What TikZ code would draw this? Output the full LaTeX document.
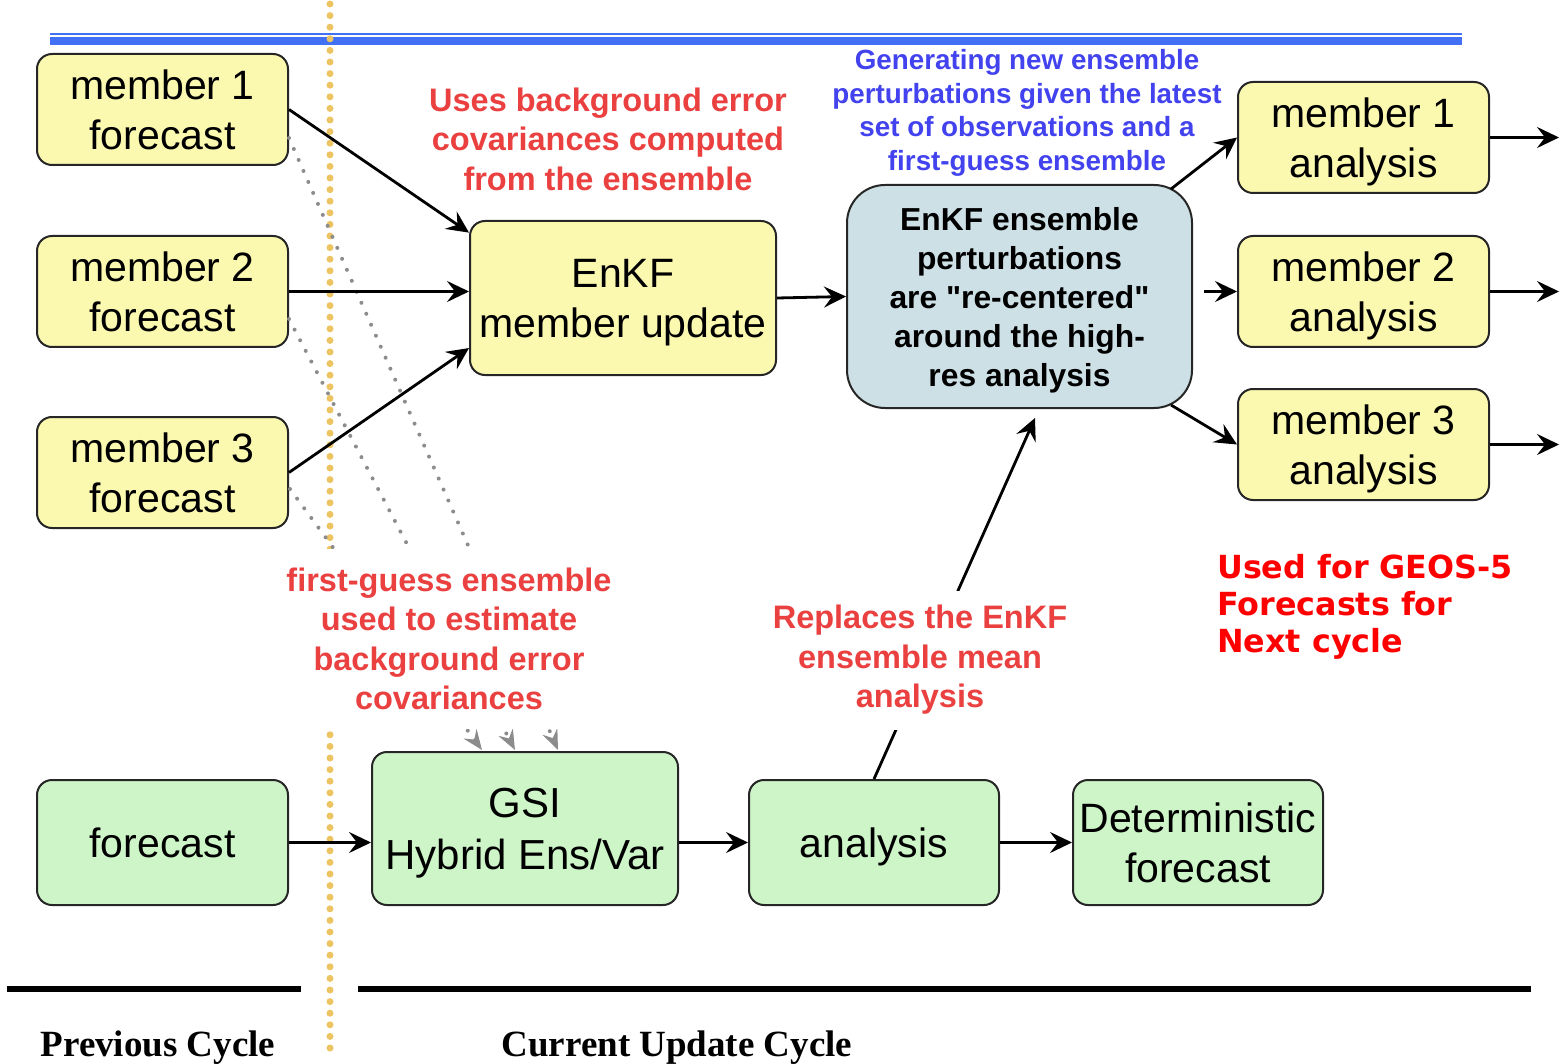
\documentclass[tikz,border=0pt]{standalone}
\usepackage{fontspec}
\setmainfont{Liberation Sans}[Ligatures=TeXOff]
\newfontfamily\geosfont{DejaVu Sans}
\newfontfamily\cyclefont{Liberation Serif}
\usetikzlibrary{arrows.meta,calc}

\definecolor{memberyellow}{RGB}{251,248,176}
\definecolor{stepgreen}{RGB}{205,245,200}
\definecolor{recenterblue}{RGB}{205,224,229}
\definecolor{noteblue}{RGB}{66,66,238}
\definecolor{notered}{RGB}{234,64,64}
\definecolor{cycleorange}{RGB}{236,196,98}
\definecolor{headerblue}{RGB}{66,112,245}
\definecolor{guessgray}{RGB}{140,140,140}

\tikzset{
  flowbox/.style={draw=black!85, line width=2pt, rounded corners=15pt, align=center,
    inner sep=0pt, text depth=0pt, font=\fontsize{41}{50}\selectfont},
  memberbox/.style={flowbox, fill=memberyellow, minimum width=251pt, minimum height=111pt},
  cyclebox/.style={flowbox, fill=stepgreen, minimum width=251pt, minimum height=125pt},
  rednote/.style={align=center, text=notered, font=\bfseries\fontsize{32.5}{39.5}\selectfont},
  bluenote/.style={align=center, text=noteblue, font=\bfseries\fontsize{27.8}{33.5}\selectfont},
  flow/.style={line width=2.8pt, -{Stealth[length=22pt,width=21pt,inset=8pt]}},
  guess/.style={guessgray, line width=4pt, line cap=round, dash pattern=on 0pt off 12pt,
    -{Stealth[length=20pt,width=16pt,inset=7pt]}},
  cyclelabel/.style={font=\cyclefont\bfseries\fontsize{37}{40}\selectfont}
}

\begin{document}
\begin{tikzpicture}[x=1pt, y=-1pt]
\useasboundingbox (0,0) rectangle (1560,1064);

% header rule
\draw[headerblue, line width=2pt] (50,34.3) -- (1462,34.3);
\draw[headerblue, line width=8.5pt] (50,41) -- (1462,41);

% cycle boundary
\draw[cycleorange, line width=7pt, line cap=round, dash pattern=on 0pt off 11.6pt] (330,4) -- (330,1050);

% ensemble members, previous cycle
\node[memberbox] (m1f) at (162.5,109.5) {member 1\\forecast};
\node[memberbox] (m2f) at (162.5,291.5) {member 2\\forecast};
\node[memberbox] (m3f) at (162.5,472.5) {member 3\\forecast};

% EnKF part
\node[flowbox, fill=memberyellow, minimum width=306pt, minimum height=154pt] (enkf) at (623,298) {EnKF\\member update};
\node[flowbox, fill=recenterblue, rounded corners=38pt, minimum width=345pt, minimum height=223pt,
  font=\bfseries\fontsize{31.8}{39}\selectfont] (ens) at (1019.5,296.5)
  {EnKF ensemble\\perturbations\\are "re-centered"\\around the high-\\res analysis};
\node[memberbox] (m1a) at (1363.5,137.5) {member 1\\analysis};
\node[memberbox] (m2a) at (1363.5,291.5) {member 2\\analysis};
\node[memberbox] (m3a) at (1363.5,444.5) {member 3\\analysis};

% GSI part
\node[cyclebox] (fc) at (162.5,842.5) {forecast};
\node[cyclebox, minimum width=306pt, minimum height=153pt, font=\fontsize{42}{52}\selectfont] (gsi) at (525,828.5) {GSI\\Hybrid Ens/Var};
\node[cyclebox, minimum width=250pt] (ana) at (874,842.5) {analysis};
\node[cyclebox, minimum width=250pt] (det) at (1198,842.5) {Deterministic\\forecast};

% first guess goes into the hybrid
\coordinate (g1) at (558,750);
\coordinate (g2) at (515,750);
\coordinate (g3) at (482,750);
\draw[guess] ($(m1f.south east)+(0,-28)$) -- (g1);
\draw[guess] ($(m2f.south east)+(0,-29)$) -- (g2);
\draw[guess] ($(m3f.south east)+(1,-40)$) -- (g3);

\coordinate (enstip) at (1035,418);
\draw[flow] (ana.north) -- (enstip);

% notes
\node[rednote, fill=white, inner xsep=4pt, inner ysep=0pt, minimum height=180pt] (fgnote) at (449,639)
  {first-guess ensemble\\used to estimate\\background error\\covariances};
\node[rednote, fill=white, inner xsep=4pt, inner ysep=0pt, minimum height=139pt] (repnote) at (920,660)
  {Replaces the EnKF\\ensemble mean\\analysis};
\node[rednote] (bnote) at (608,139) {Uses background error\\covariances computed\\from the ensemble};
\node[bluenote] (pnote) at (1027,113) {Generating new ensemble\\perturbations given the latest\\set of observations and a\\first-guess ensemble};
\node[anchor=west, align=left, text=red, inner sep=0pt, font=\geosfont\bfseries\fontsize{31.8}{37}\selectfont] (geos) at (1217,607)
  {Used for GEOS-5\\Forecasts for\\Next cycle};

% connectors
\draw[flow] (m1f.east) -- (enkf.157);
\draw[flow] (m2f.east) -- (m2f.east -| enkf.west);
\draw[flow] (m3f.east) -- (enkf.198);
\draw[flow] (enkf.east) -- (ens.west);
\draw[flow] ($(ens.north east)+(-22,5)$) -- (m1a.west);
\draw[flow, shorten <=11pt] (ens.east |- m2a) -- (m2a.west);
\draw[flow] ($(ens.south east)+(-22,-4)$) -- (m3a.west);
\draw[flow] (m1a.east) -- +(69,0);
\draw[flow] (m2a.east) -- +(69,0);
\draw[flow] (m3a.east) -- +(69,0);
\draw[flow] (fc.east) -- (gsi.west |- fc);
\draw[flow] (gsi.east |- ana) -- (ana.west);
\draw[flow] (ana.east) -- (det.west);

% cycle labels
\draw[line width=6pt] (7,989) -- (301,989);
\draw[line width=6pt] (358,989) -- (1531,989);
\node[cyclelabel] (prev) at (158,1048) {Previous Cycle};
\node[cyclelabel] (curr) at (677,1048) {Current Update Cycle};
\end{tikzpicture}
\end{document}
